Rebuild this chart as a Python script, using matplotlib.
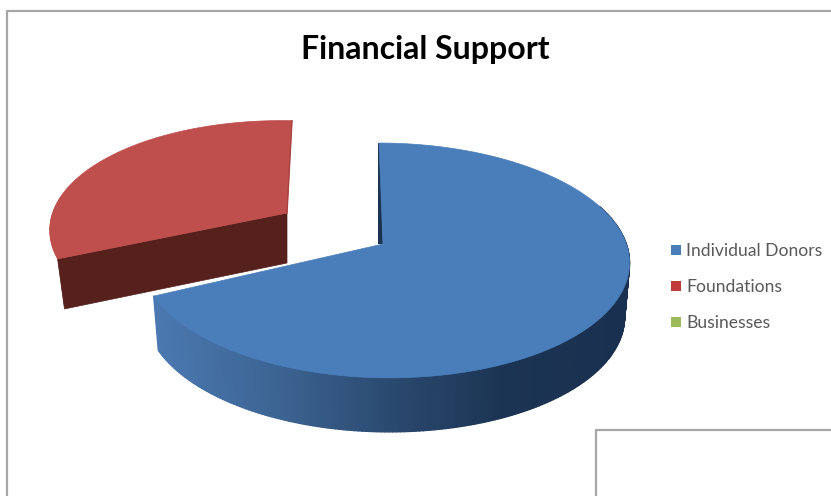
import numpy as np
import matplotlib
matplotlib.use("Agg")
import matplotlib.pyplot as plt
from matplotlib.collections import PolyCollection
from matplotlib.colors import LinearSegmentedColormap
from matplotlib.patches import Patch, Polygon

# Chart data
title = "Financial Support"
categories = ["Individual Donors", "Foundations", "Businesses"]
shares = [68, 32, 0]
colors = ["#4A7EBB", "#BE4F4C", "#9BBB59"]
legend_colors = ["#4A7EBB", "#C0393B", "#9BBB59"]

plt.rcParams["font.family"] = ["Lato", "DejaVu Sans"]

# Axes use image pixels so the 3D look can be lined up with the reference
fig = plt.figure(figsize=(8.31, 4.96), dpi=100)
ax = fig.add_axes([0, 0, 1, 1])
ax.set_xlim(0, 831)
ax.set_ylim(496, 0)
ax.axis("off")

frame_color = "#A6A6A6"
ax.plot([7, 7, 831], [496, 11, 11], color=frame_color, lw=1.6)
ax.plot([596, 596, 831], [496, 430, 430], color=frame_color, lw=1.6)


def rim(theta, apex, rx, ry, k, shift, skew=0):
    # perspective circle, theta is clockwise from 12 o'clock in degrees
    t = np.radians(theta)
    u, v = np.sin(t), np.cos(t)
    w = 1 / (1 + k * v)
    x = apex[0] + rx * u * w + shift[0] + shift[1] * v
    y = apex[1] - ry * v * w + skew * u
    return x, y


def lower(x, y, apex, depth, scale):
    # same points on the bottom face of the pie
    return apex[0] + (x - apex[0]) * scale, y + depth


split = 360 * shares[0] / sum(shares)

# Foundations slice, pulled away from the pie
red_apex = (287, 213)
red_args = (red_apex, 233, 108, 0.17, (0, 5), 4)
red_depth = 50
th = np.linspace(split, 360, 120)
rx_, ry_ = rim(th, *red_args)

# bit of outer wall showing at the far left
side_th = np.linspace(split, split + 32, 30)
sx, sy = rim(side_th, *red_args)
cx, cy = rim(np.array([split]), *red_args)
cbx, cby = lower(cx, cy, red_apex, red_depth, 0.97)
ax.add_patch(Polygon(np.r_[np.c_[sx, sy], np.c_[cbx, cby]], fc="#A8433F", ec="none"))

ax.add_patch(Polygon([red_apex, (cx[0], cy[0]), (cbx[0], cby[0]), (red_apex[0], red_apex[1] + red_depth)],
                     fc="#56201D", ec="#56201D", lw=0.5))
ax.add_patch(Polygon(np.r_[[red_apex], np.c_[rx_, ry_]], fc=colors[1], ec=colors[1], lw=0.5))
ax.plot([rx_[-1], red_apex[0]], [ry_[-1], red_apex[1]], color="#A8433F", lw=1)

# Individual Donors slice
blue_apex = (383, 244)
blue_args = (blue_apex, 242, 115.1, 0.14, (1.3, -5.3))
blue_depth = 54
th = np.linspace(0, split, 300)
x_, y_ = rim(th, *blue_args)

# thin cut face at 12 o'clock
ax.add_patch(Polygon([(x_[0] - 1, y_[0]), (x_[0] + 1, y_[0]), blue_apex, (blue_apex[0] - 5, blue_apex[1])],
                     fc="#1B3350", ec="none"))

# outer wall, split in small quads to get the shading
wall_cmap = LinearSegmentedColormap.from_list(
    "wall", ["#4A78B0", "#3D6594", "#2B4A70", "#1C3453", "#1A3050"])
wall_th = np.linspace(70, split, 220)
wx, wy = rim(wall_th, *blue_args)
wbx, wby = lower(wx, wy, blue_apex, blue_depth, 0.98)
quads = []
quad_colors = []
for i in range(len(wall_th) - 1):
    quads.append([(wx[i], wy[i]), (wx[i + 1], wy[i + 1]), (wbx[i + 1], wby[i + 1]), (wbx[i], wby[i])])
    quad_colors.append(wall_cmap(((wx[i] + wx[i + 1]) / 2 - 155) / 465))
ax.add_collection(PolyCollection(quads, facecolors=quad_colors, edgecolors=quad_colors, linewidths=1.0))

ax.add_patch(Polygon(np.r_[[blue_apex], np.c_[x_, y_]], fc=colors[0], ec=colors[0], lw=0.5))

ax.text(425, 50, title, fontsize=23, fontweight="bold", color="black", ha="center", va="center")

handles = [Patch(fc=c, ec="none", label=n) for c, n in zip(legend_colors, categories)]
ax.legend(handles=handles, loc="upper left", bbox_to_anchor=(665.75 / 831, 1 - 238 / 496),
          frameon=False, fontsize=12.6, labelcolor="#595959", labelspacing=1.14,
          handlelength=0.57, handleheight=0.57, handletextpad=0.3, borderpad=0.3, borderaxespad=0)

plt.savefig("out.png", dpi=100)
